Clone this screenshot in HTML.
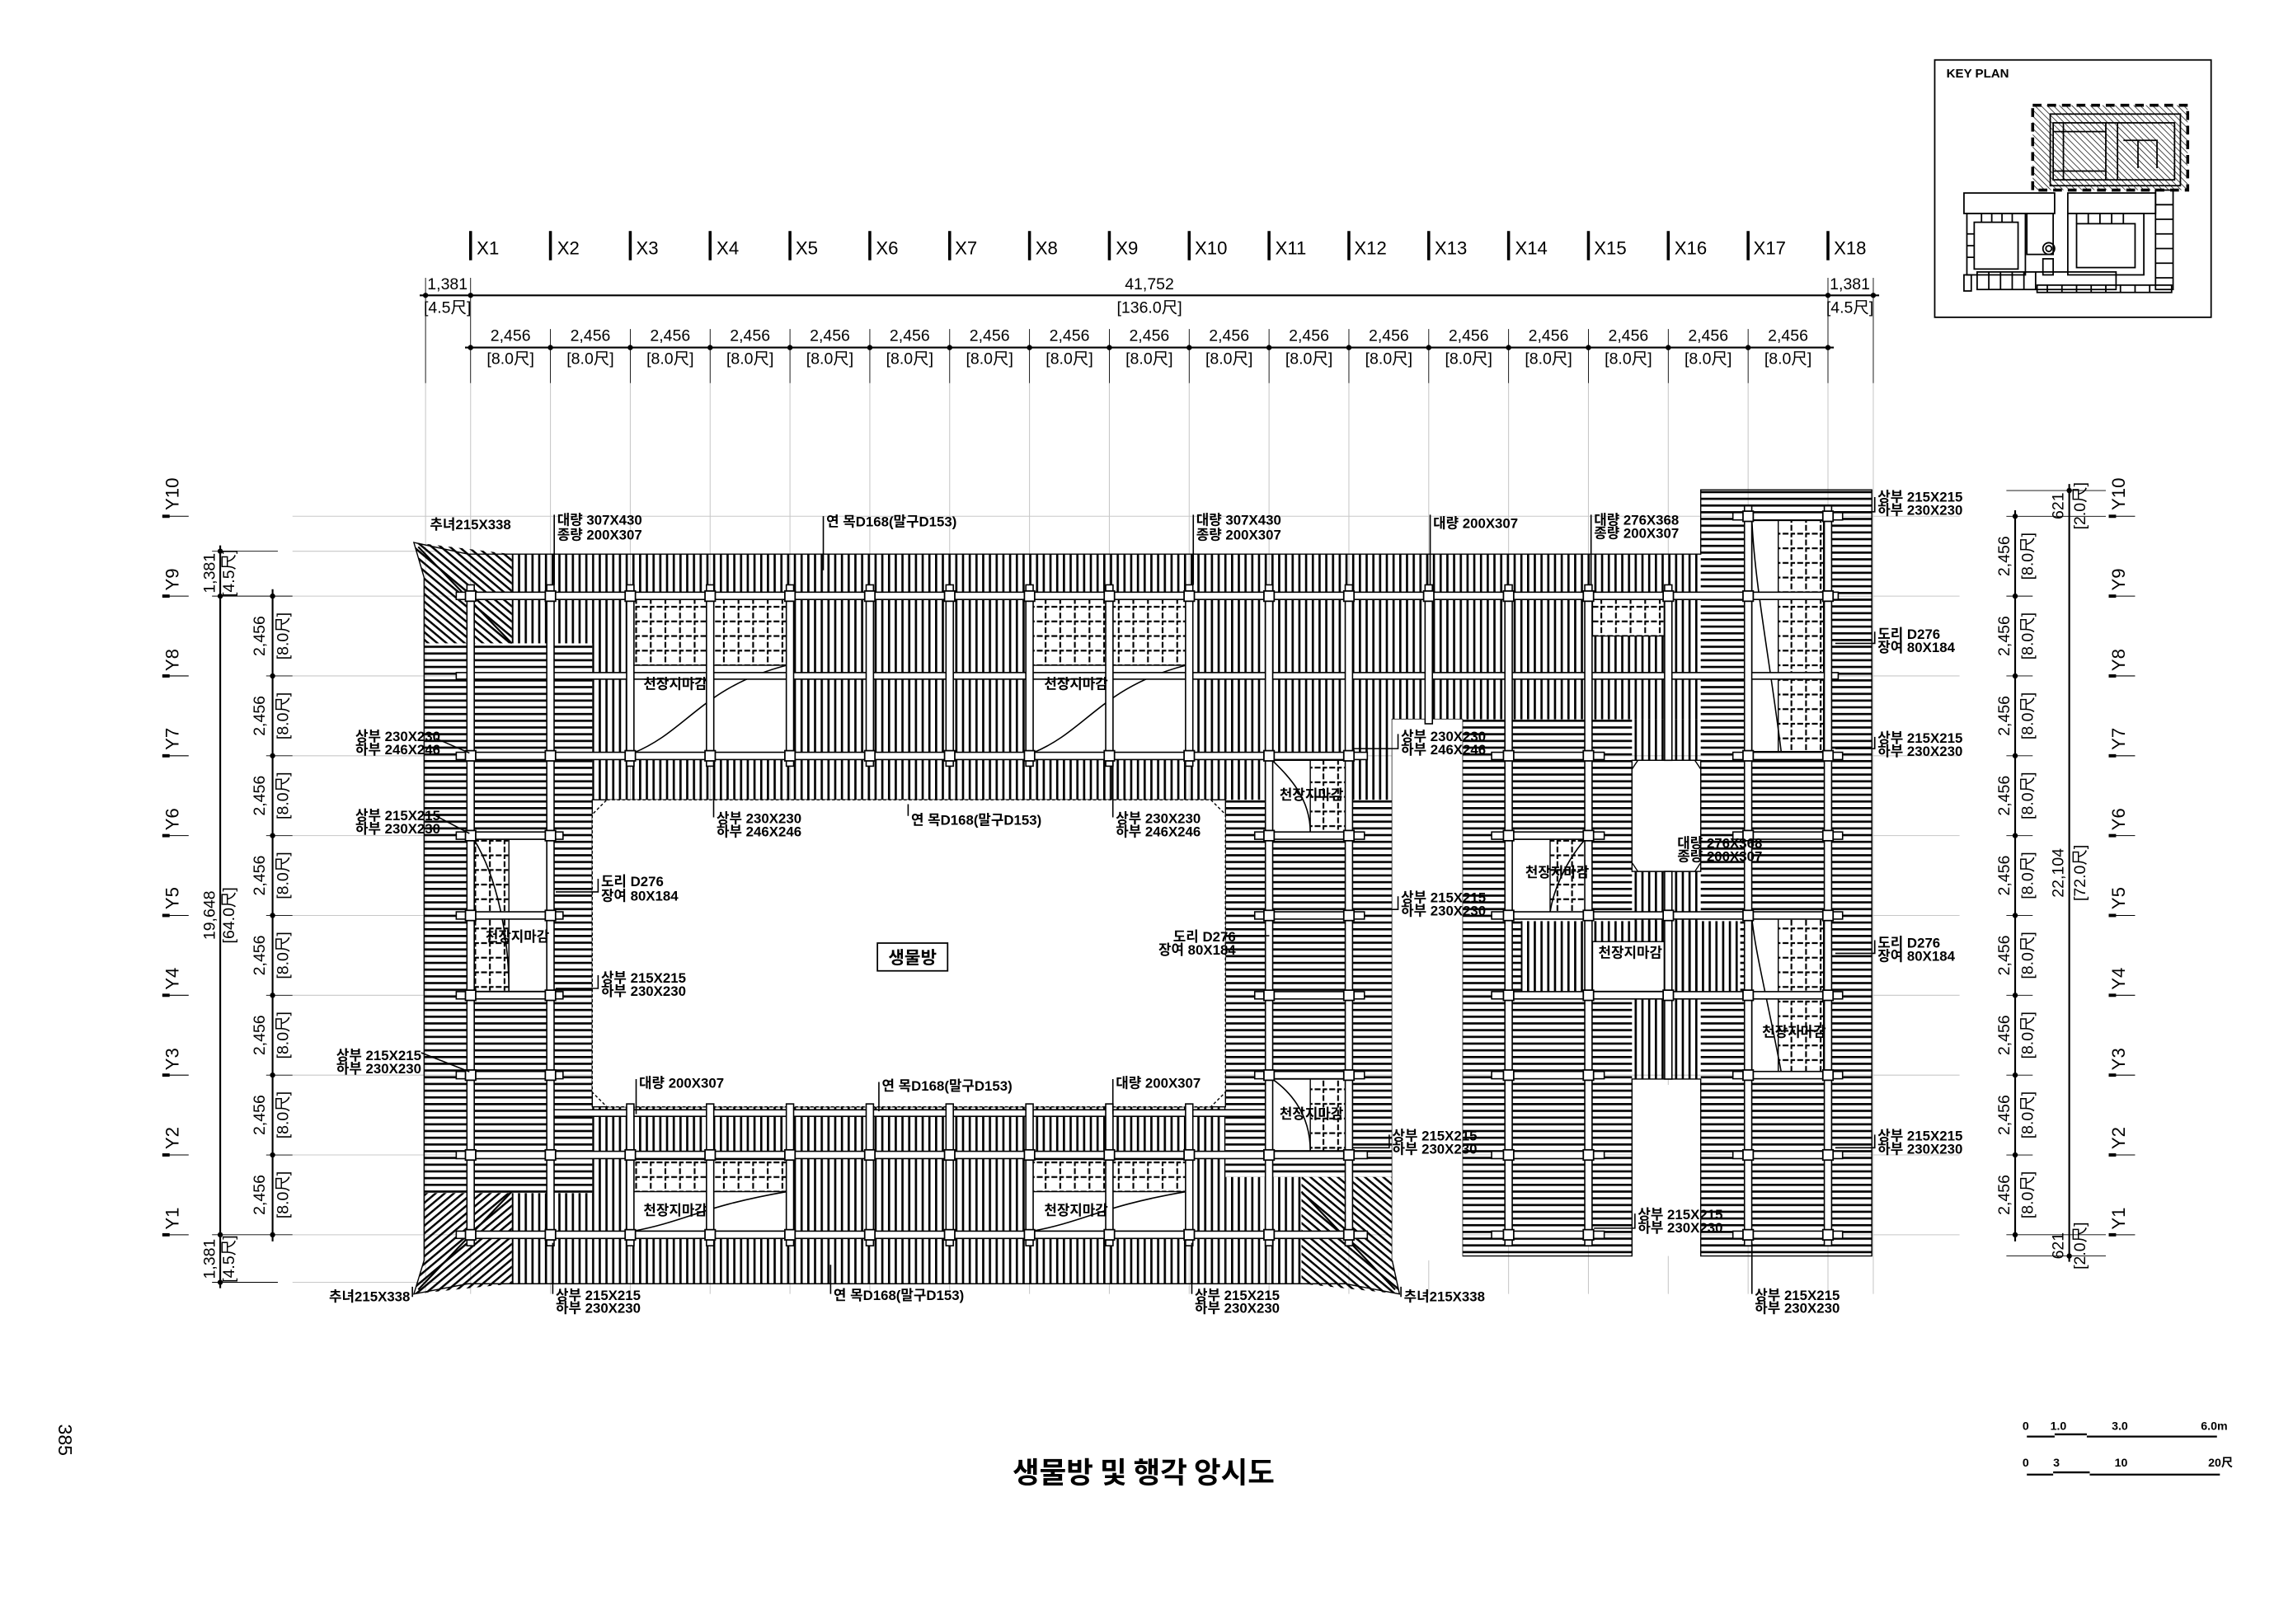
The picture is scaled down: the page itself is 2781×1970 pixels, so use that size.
<!DOCTYPE html>
<html><head><meta charset="utf-8">
<style>
html,body{margin:0;padding:0;background:#fff;}
svg{display:block;}
.t{font-family:"Liberation Sans Narrow","Liberation Sans","Noto Sans CJK KR",sans-serif;font-size:9.5px;font-weight:bold;fill:#000;}
.d{font-family:"Liberation Sans Narrow","Liberation Sans","Noto Sans CJK KR",sans-serif;font-size:11px;fill:#000;}
.g{stroke:#c8c8c8;stroke-width:0.6;fill:none;}
.k{stroke:#000;fill:none;}
.bm{fill:#fff;stroke:#000;stroke-width:0.9;}
.cs{fill:#fff;stroke:#000;stroke-width:1;}
</style></head>
<body>
<svg width="2781" height="1970" viewBox="0 0 1568 1110.7" preserveAspectRatio="none" xmlns="http://www.w3.org/2000/svg">
<defs>
<pattern id="v" width="4.6" height="10" patternUnits="userSpaceOnUse"><rect width="1.5" height="10" fill="#000"/></pattern>
<pattern id="h" width="10" height="4.6" patternUnits="userSpaceOnUse"><rect width="10" height="1.5" fill="#000"/></pattern>
<pattern id="dg" width="4" height="4" patternUnits="userSpaceOnUse" patternTransform="rotate(40)"><rect width="4" height="1.4" fill="#000"/></pattern>
<pattern id="dg2" width="4" height="4" patternUnits="userSpaceOnUse" patternTransform="rotate(-40)"><rect width="4" height="1.4" fill="#000"/></pattern>
<pattern id="kh" width="3" height="3" patternUnits="userSpaceOnUse" patternTransform="rotate(45)"><rect width="3" height="0.4" fill="#000"/></pattern>
<pattern id="cg" width="10" height="10" patternUnits="userSpaceOnUse"><rect width="10" height="10" fill="#fff"/><path d="M5 0V10M0 5H10" stroke="#000" stroke-width="1.2" stroke-dasharray="3 1.5"/></pattern>
</defs>
<rect width="1568" height="1111" fill="#fff"/>

<!-- grid lines -->
<g class="g">
<path d="M291 262V885M321.8 262V885M376.4 262V885M431 262V885M485.6 262V885M540.2 262V885M594.8 262V885M649.4 262V885M704 262V885M758.6 262V885M813.2 262V885M867.8 262V885M922.4 262V885M977 262V885M1031.6 262V885M1086.2 262V885M1140.8 262V885M1195.4 262V885M1250 262V885M1281 262V885"/>
<path d="M200 353.1H1340M200 407.7H1340M200 462.3H1340M200 516.9H1340M200 571.5H1340M200 626.1H1340M200 680.7H1340M200 735.3H1340M200 789.9H1340M200 844.5H1340M200 377H300M200 877H300"/>
</g>

<!-- hatch regions: main building -->
<rect x="350" y="379" width="55" height="61" fill="url(#v)"/>
<rect x="405" y="379" width="547" height="168" fill="url(#v)"/>
<rect x="952" y="379" width="211" height="113" fill="url(#v)"/>
<rect x="290" y="440" width="115" height="376" fill="url(#h)"/>
<rect x="838" y="547" width="114" height="258" fill="url(#h)"/>
<rect x="405" y="757" width="433" height="121" fill="url(#v)"/>
<rect x="350" y="816" width="55" height="62" fill="url(#v)"/>
<rect x="838" y="805" width="52" height="73" fill="url(#v)"/>
<polygon points="283,371 350,379 350,440 290,440 290,395" fill="url(#dg)"/>
<polygon points="283,885 350,878 350,816 290,816 290,862" fill="url(#dg2)"/>
<polygon points="957,885 890,878 890,805 952,805 952,862" fill="url(#dg)"/>
<path d="M286 374L350 440M286 882L350 815M954 882L890 815" class="k" stroke-width="1.2"/>
<!-- right building -->
<rect x="1000" y="492" width="116" height="367" fill="url(#h)"/>
<rect x="1163" y="335" width="117" height="524" fill="url(#h)"/>
<rect x="1116" y="492" width="47" height="28" fill="url(#v)"/>
<rect x="1040" y="630" width="150" height="48" fill="#fff"/>
<rect x="1116" y="596" width="47" height="142" fill="url(#v)"/>
<rect x="1040" y="630" width="150" height="48" fill="url(#v)"/>

<!-- outlines -->
<g class="k" stroke-width="0.8">
<polygon points="283,371 320,379 1163,379 1163,335 1280,335 1280,859 1163,859 1163,738 1116,738 1116,859 1000,859 1000,492 952,492 952,862 957,885 920,878 320,878 283,885 290,862 290,395"/>
<rect x="405" y="547" width="433" height="210"/>
<rect x="1116" y="520" width="47" height="76"/>
</g>
<!-- courtyard white -->
<polygon points="415,547 828,547 838,557 838,747 828,757 415,757 405,747 405,557" fill="#fff" stroke="#000" stroke-width="0.8" stroke-dasharray="2 1.5"/>
<polygon points="1120,520 1159,520 1163,526 1163,590 1159,596 1120,596 1116,590 1116,526" fill="#fff" stroke="#000" stroke-width="0.8"/>
<rect x="1116.5" y="742" width="46" height="117" fill="#fff"/>
<polygon points="952,492 1000,492 1000,862 952,862" fill="#fff"/>

<!-- ceiling patches -->
<g stroke="#000" stroke-width="0.8">
<rect x="433" y="410" width="105" height="105" fill="#fff"/>
<rect x="433" y="410" width="105" height="45" fill="url(#cg)"/>
<rect x="706" y="410" width="105" height="105" fill="#fff"/>
<rect x="706" y="410" width="105" height="45" fill="url(#cg)"/>
<rect x="433" y="793" width="105" height="49" fill="#fff"/>
<rect x="433" y="793" width="105" height="22" fill="url(#cg)"/>
<rect x="706" y="793" width="105" height="49" fill="#fff"/>
<rect x="706" y="793" width="105" height="22" fill="url(#cg)"/>
<rect x="324" y="574" width="50" height="104" fill="#fff"/>
<rect x="324" y="574" width="24" height="104" fill="url(#cg)"/>
<rect x="870" y="520" width="50" height="49" fill="#fff"/>
<rect x="896" y="520" width="24" height="49" fill="url(#cg)"/>
<rect x="870" y="738" width="50" height="49" fill="#fff"/>
<rect x="896" y="738" width="24" height="49" fill="url(#cg)"/>
<rect x="1034" y="574" width="50" height="50" fill="#fff"/>
<rect x="1060" y="574" width="24" height="50" fill="url(#cg)"/>
<rect x="1089" y="410" width="49" height="25" fill="url(#cg)"/>
<rect x="1089" y="644" width="49" height="34" fill="#fff"/>
<rect x="1198" y="356" width="49" height="158" fill="#fff"/>
<rect x="1216" y="356" width="31" height="158" fill="url(#cg)"/>
<rect x="1198" y="628" width="49" height="105" fill="#fff"/>
<rect x="1216" y="628" width="31" height="105" fill="url(#cg)"/>
</g>
<g class="k" stroke-width="0.9">
<path d="M433 515C470 500 480 470 538 455M706 515C743 500 753 470 811 455M433 842C470 835 480 825 538 815M706 842C743 835 753 825 811 815M348 678C348 640 340 600 324 574M896 569C896 545 880 530 870 520M896 787C896 760 880 745 870 738M1084 574C1070 590 1062 610 1060 624M1218 514C1210 450 1200 400 1198 356M1218 733C1210 690 1200 650 1198 628"/>
</g>

<!-- beams horizontal -->
<g class="bm">
<rect x="312" y="405" width="945" height="5"/>
<rect x="312" y="460" width="945" height="4.5"/>
<rect x="312" y="514.5" width="623" height="5"/>
<rect x="1020" y="514.5" width="77" height="5"/><rect x="1185" y="514.5" width="75" height="5"/>
<rect x="1185" y="350.6" width="75" height="5"/>
<rect x="312" y="569" width="73" height="5"/><rect x="858" y="569" width="75" height="5"/><rect x="1020" y="569" width="77" height="5"/><rect x="1185" y="569" width="75" height="5"/>
<rect x="312" y="623.6" width="73" height="5"/><rect x="858" y="623.6" width="75" height="5"/><rect x="1020" y="623.6" width="240" height="5"/>
<rect x="312" y="678.2" width="73" height="5"/><rect x="858" y="678.2" width="75" height="5"/><rect x="1020" y="678.2" width="240" height="5"/>
<rect x="312" y="732.8" width="73" height="5"/><rect x="858" y="732.8" width="75" height="5"/><rect x="1020" y="732.8" width="77" height="5"/><rect x="1185" y="732.8" width="75" height="5"/>
<rect x="376" y="759" width="492" height="4.5"/>
<rect x="312" y="787.4" width="623" height="5"/><rect x="1020" y="787.4" width="77" height="5"/><rect x="1185" y="787.4" width="75" height="5"/>
<rect x="312" y="842" width="623" height="5"/><rect x="1020" y="842" width="77" height="5"/><rect x="1185" y="842" width="75" height="5"/>
</g>
<!-- vertical members -->
<g class="bm">
<rect x="319.3" y="400" width="5" height="452"/><rect x="373.9" y="400" width="5" height="452"/>
<rect x="865.3" y="400" width="5" height="452"/><rect x="919.9" y="400" width="5" height="452"/>
<rect x="428.5" y="400" width="5" height="124"/><rect x="483.1" y="400" width="5" height="124"/><rect x="537.7" y="400" width="5" height="124"/><rect x="592.3" y="400" width="5" height="124"/><rect x="646.9" y="400" width="5" height="124"/><rect x="701.5" y="400" width="5" height="124"/><rect x="756.1" y="400" width="5" height="124"/><rect x="810.7" y="400" width="5" height="124"/><rect x="974.5" y="400" width="5" height="95"/>
<rect x="428.5" y="755" width="5" height="97"/><rect x="483.1" y="755" width="5" height="97"/><rect x="537.7" y="755" width="5" height="97"/><rect x="592.3" y="755" width="5" height="97"/><rect x="646.9" y="755" width="5" height="97"/><rect x="701.5" y="755" width="5" height="97"/><rect x="756.1" y="755" width="5" height="97"/><rect x="810.7" y="755" width="5" height="97"/>
<rect x="1029.1" y="400" width="5" height="452"/><rect x="1083.7" y="400" width="5" height="452"/>
<rect x="1192.9" y="346" width="5" height="506"/><rect x="1247.5" y="346" width="5" height="506"/>
<rect x="1138.3" y="400" width="5" height="120"/><rect x="1138.3" y="596" width="5" height="142"/>
</g>
<!-- columns -->
<g class="cs">
<rect x="318.3" y="404.2" width="7" height="7"/><rect x="372.9" y="404.2" width="7" height="7"/><rect x="427.5" y="404.2" width="7" height="7"/><rect x="482.1" y="404.2" width="7" height="7"/><rect x="536.7" y="404.2" width="7" height="7"/><rect x="591.3" y="404.2" width="7" height="7"/><rect x="645.9" y="404.2" width="7" height="7"/><rect x="700.5" y="404.2" width="7" height="7"/><rect x="755.1" y="404.2" width="7" height="7"/><rect x="809.7" y="404.2" width="7" height="7"/><rect x="864.3" y="404.2" width="7" height="7"/><rect x="918.9" y="404.2" width="7" height="7"/><rect x="973.5" y="404.2" width="7" height="7"/><rect x="1028.1" y="404.2" width="7" height="7"/><rect x="1082.7" y="404.2" width="7" height="7"/><rect x="1137.3" y="404.2" width="7" height="7"/><rect x="1191.9" y="404.2" width="7" height="7"/><rect x="1246.5" y="404.2" width="7" height="7"/>
<rect x="318.3" y="513.4" width="7" height="7"/><rect x="372.9" y="513.4" width="7" height="7"/><rect x="427.5" y="513.4" width="7" height="7"/><rect x="482.1" y="513.4" width="7" height="7"/><rect x="536.7" y="513.4" width="7" height="7"/><rect x="591.3" y="513.4" width="7" height="7"/><rect x="645.9" y="513.4" width="7" height="7"/><rect x="700.5" y="513.4" width="7" height="7"/><rect x="755.1" y="513.4" width="7" height="7"/><rect x="809.7" y="513.4" width="7" height="7"/><rect x="864.3" y="513.4" width="7" height="7"/><rect x="918.9" y="513.4" width="7" height="7"/><rect x="1028.1" y="513.4" width="7" height="7"/><rect x="1082.7" y="513.4" width="7" height="7"/><rect x="1191.9" y="513.4" width="7" height="7"/><rect x="1246.5" y="513.4" width="7" height="7"/>
<rect x="318.3" y="568" width="7" height="7"/><rect x="372.9" y="568" width="7" height="7"/><rect x="864.3" y="568" width="7" height="7"/><rect x="918.9" y="568" width="7" height="7"/><rect x="1028.1" y="568" width="7" height="7"/><rect x="1082.7" y="568" width="7" height="7"/><rect x="1191.9" y="568" width="7" height="7"/><rect x="1246.5" y="568" width="7" height="7"/>
<rect x="318.3" y="622.6" width="7" height="7"/><rect x="372.9" y="622.6" width="7" height="7"/><rect x="864.3" y="622.6" width="7" height="7"/><rect x="918.9" y="622.6" width="7" height="7"/><rect x="1028.1" y="622.6" width="7" height="7"/><rect x="1082.7" y="622.6" width="7" height="7"/><rect x="1137.3" y="622.6" width="7" height="7"/><rect x="1191.9" y="622.6" width="7" height="7"/><rect x="1246.5" y="622.6" width="7" height="7"/>
<rect x="318.3" y="677.2" width="7" height="7"/><rect x="372.9" y="677.2" width="7" height="7"/><rect x="864.3" y="677.2" width="7" height="7"/><rect x="918.9" y="677.2" width="7" height="7"/><rect x="1028.1" y="677.2" width="7" height="7"/><rect x="1082.7" y="677.2" width="7" height="7"/><rect x="1137.3" y="677.2" width="7" height="7"/><rect x="1191.9" y="677.2" width="7" height="7"/><rect x="1246.5" y="677.2" width="7" height="7"/>
<rect x="318.3" y="731.8" width="7" height="7"/><rect x="372.9" y="731.8" width="7" height="7"/><rect x="864.3" y="731.8" width="7" height="7"/><rect x="918.9" y="731.8" width="7" height="7"/><rect x="1028.1" y="731.8" width="7" height="7"/><rect x="1082.7" y="731.8" width="7" height="7"/><rect x="1191.9" y="731.8" width="7" height="7"/><rect x="1246.5" y="731.8" width="7" height="7"/>
<rect x="318.3" y="786.4" width="7" height="7"/><rect x="372.9" y="786.4" width="7" height="7"/><rect x="427.5" y="786.4" width="7" height="7"/><rect x="482.1" y="786.4" width="7" height="7"/><rect x="536.7" y="786.4" width="7" height="7"/><rect x="591.3" y="786.4" width="7" height="7"/><rect x="645.9" y="786.4" width="7" height="7"/><rect x="700.5" y="786.4" width="7" height="7"/><rect x="755.1" y="786.4" width="7" height="7"/><rect x="809.7" y="786.4" width="7" height="7"/><rect x="864.3" y="786.4" width="7" height="7"/><rect x="918.9" y="786.4" width="7" height="7"/><rect x="1028.1" y="786.4" width="7" height="7"/><rect x="1082.7" y="786.4" width="7" height="7"/><rect x="1191.9" y="786.4" width="7" height="7"/><rect x="1246.5" y="786.4" width="7" height="7"/>
<rect x="318.3" y="841" width="7" height="7"/><rect x="372.9" y="841" width="7" height="7"/><rect x="427.5" y="841" width="7" height="7"/><rect x="482.1" y="841" width="7" height="7"/><rect x="536.7" y="841" width="7" height="7"/><rect x="591.3" y="841" width="7" height="7"/><rect x="645.9" y="841" width="7" height="7"/><rect x="700.5" y="841" width="7" height="7"/><rect x="755.1" y="841" width="7" height="7"/><rect x="809.7" y="841" width="7" height="7"/><rect x="864.3" y="841" width="7" height="7"/><rect x="918.9" y="841" width="7" height="7"/><rect x="1028.1" y="841" width="7" height="7"/><rect x="1082.7" y="841" width="7" height="7"/><rect x="1191.9" y="841" width="7" height="7"/><rect x="1246.5" y="841" width="7" height="7"/>
<rect x="1191.9" y="349.6" width="7" height="7"/><rect x="1246.5" y="349.6" width="7" height="7"/>
</g>

<!-- top X labels -->
<g fill="#000">
<rect x="320.8" y="158" width="2" height="20"/><rect x="375.4" y="158" width="2" height="20"/><rect x="430" y="158" width="2" height="20"/><rect x="484.6" y="158" width="2" height="20"/><rect x="539.2" y="158" width="2" height="20"/><rect x="593.8" y="158" width="2" height="20"/><rect x="648.4" y="158" width="2" height="20"/><rect x="703" y="158" width="2" height="20"/><rect x="757.6" y="158" width="2" height="20"/><rect x="812.2" y="158" width="2" height="20"/><rect x="866.8" y="158" width="2" height="20"/><rect x="921.4" y="158" width="2" height="20"/><rect x="976" y="158" width="2" height="20"/><rect x="1030.6" y="158" width="2" height="20"/><rect x="1085.2" y="158" width="2" height="20"/><rect x="1139.8" y="158" width="2" height="20"/><rect x="1194.4" y="158" width="2" height="20"/><rect x="1249" y="158" width="2" height="20"/>
</g>
<g class="d" style="font-size:12.5px">
<text x="326" y="174">X1</text><text x="381" y="174">X2</text><text x="435" y="174">X3</text><text x="490" y="174">X4</text><text x="544" y="174">X5</text><text x="599" y="174">X6</text><text x="653" y="174">X7</text><text x="708" y="174">X8</text><text x="763" y="174">X9</text><text x="817" y="174">X10</text><text x="872" y="174">X11</text><text x="926" y="174">X12</text><text x="981" y="174">X13</text><text x="1036" y="174">X14</text><text x="1090" y="174">X15</text><text x="1145" y="174">X16</text><text x="1199" y="174">X17</text><text x="1254" y="174">X18</text>
</g>
<!-- top dims -->
<g class="k" stroke-width="1.2"><path d="M287 202H1285M318 237.7H1254"/></g>
<g class="k" stroke-width="0.5"><path d="M291 190V262M1281 190V262M321.8 190V262M376.4 225V262M431 225V262M485.6 225V262M540.2 225V262M594.8 225V262M649.4 225V262M704 225V262M758.6 225V262M813.2 225V262M867.8 225V262M922.4 225V262M977 225V262M1031.6 225V262M1086.2 225V262M1140.8 225V262M1195.4 225V262M1250 190V262"/></g>
<g fill="#000">
<circle cx="291" cy="202" r="1.8"/><circle cx="321.8" cy="202" r="1.8"/><circle cx="1250" cy="202" r="1.8"/><circle cx="1281" cy="202" r="1.8"/>
<circle cx="321.8" cy="237.7" r="1.8"/><circle cx="376.4" cy="237.7" r="1.8"/><circle cx="431" cy="237.7" r="1.8"/><circle cx="485.6" cy="237.7" r="1.8"/><circle cx="540.2" cy="237.7" r="1.8"/><circle cx="594.8" cy="237.7" r="1.8"/><circle cx="649.4" cy="237.7" r="1.8"/><circle cx="704" cy="237.7" r="1.8"/><circle cx="758.6" cy="237.7" r="1.8"/><circle cx="813.2" cy="237.7" r="1.8"/><circle cx="867.8" cy="237.7" r="1.8"/><circle cx="922.4" cy="237.7" r="1.8"/><circle cx="977" cy="237.7" r="1.8"/><circle cx="1031.6" cy="237.7" r="1.8"/><circle cx="1086.2" cy="237.7" r="1.8"/><circle cx="1140.8" cy="237.7" r="1.8"/><circle cx="1195.4" cy="237.7" r="1.8"/><circle cx="1250" cy="237.7" r="1.8"/>
</g>
<g class="d" text-anchor="middle">
<text x="306" y="198">1,381</text><text x="306" y="214">[4.5尺]</text>
<text x="786" y="198">41,752</text><text x="786" y="214">[136.0尺]</text>
<text x="1265" y="198">1,381</text><text x="1265" y="214">[4.5尺]</text>
<text x="349.1" y="233">2,456</text><text x="403.7" y="233">2,456</text><text x="458.3" y="233">2,456</text><text x="512.9" y="233">2,456</text><text x="567.5" y="233">2,456</text><text x="622.1" y="233">2,456</text><text x="676.7" y="233">2,456</text><text x="731.3" y="233">2,456</text><text x="785.9" y="233">2,456</text><text x="840.5" y="233">2,456</text><text x="895.1" y="233">2,456</text><text x="949.7" y="233">2,456</text><text x="1004.3" y="233">2,456</text><text x="1058.9" y="233">2,456</text><text x="1113.5" y="233">2,456</text><text x="1168.1" y="233">2,456</text><text x="1222.7" y="233">2,456</text>
<text x="349.1" y="249">[8.0尺]</text><text x="403.7" y="249">[8.0尺]</text><text x="458.3" y="249">[8.0尺]</text><text x="512.9" y="249">[8.0尺]</text><text x="567.5" y="249">[8.0尺]</text><text x="622.1" y="249">[8.0尺]</text><text x="676.7" y="249">[8.0尺]</text><text x="731.3" y="249">[8.0尺]</text><text x="785.9" y="249">[8.0尺]</text><text x="840.5" y="249">[8.0尺]</text><text x="895.1" y="249">[8.0尺]</text><text x="949.7" y="249">[8.0尺]</text><text x="1004.3" y="249">[8.0尺]</text><text x="1058.9" y="249">[8.0尺]</text><text x="1113.5" y="249">[8.0尺]</text><text x="1168.1" y="249">[8.0尺]</text><text x="1222.7" y="249">[8.0尺]</text>
</g>

<!-- left Y labels -->
<g fill="#000">
<rect x="111" y="352" width="5" height="2.2"/><rect x="111" y="406.6" width="5" height="2.2"/><rect x="111" y="461.2" width="5" height="2.2"/><rect x="111" y="515.8" width="5" height="2.2"/><rect x="111" y="570.4" width="5" height="2.2"/><rect x="111" y="625" width="5" height="2.2"/><rect x="111" y="679.6" width="5" height="2.2"/><rect x="111" y="734.2" width="5" height="2.2"/><rect x="111" y="788.8" width="5" height="2.2"/><rect x="111" y="843.4" width="5" height="2.2"/>
<rect x="1442" y="352" width="5" height="2.2"/><rect x="1442" y="406.6" width="5" height="2.2"/><rect x="1442" y="461.2" width="5" height="2.2"/><rect x="1442" y="515.8" width="5" height="2.2"/><rect x="1442" y="570.4" width="5" height="2.2"/><rect x="1442" y="625" width="5" height="2.2"/><rect x="1442" y="679.6" width="5" height="2.2"/><rect x="1442" y="734.2" width="5" height="2.2"/><rect x="1442" y="788.8" width="5" height="2.2"/><rect x="1442" y="843.4" width="5" height="2.2"/>
</g>
<g class="k" stroke-width="0.6"><path d="M111 353.1H129M111 407.7H129M111 462.3H129M111 516.9H129M111 571.5H129M111 626.1H129M111 680.7H129M111 735.3H129M111 789.9H129M111 844.5H129M1442 353.1H1460M1442 407.7H1460M1442 462.3H1460M1442 516.9H1460M1442 571.5H1460M1442 626.1H1460M1442 680.7H1460M1442 735.3H1460M1442 789.9H1460M1442 844.5H1460"/></g>
<g class="d" style="font-size:12.5px">
<text transform="translate(122,349) rotate(-90)">Y10</text><text transform="translate(122,404) rotate(-90)">Y9</text><text transform="translate(122,459) rotate(-90)">Y8</text><text transform="translate(122,513) rotate(-90)">Y7</text><text transform="translate(122,568) rotate(-90)">Y6</text><text transform="translate(122,622) rotate(-90)">Y5</text><text transform="translate(122,677) rotate(-90)">Y4</text><text transform="translate(122,732) rotate(-90)">Y3</text><text transform="translate(122,786) rotate(-90)">Y2</text><text transform="translate(122,841) rotate(-90)">Y1</text>
<text transform="translate(1453,349) rotate(-90)">Y10</text><text transform="translate(1453,404) rotate(-90)">Y9</text><text transform="translate(1453,459) rotate(-90)">Y8</text><text transform="translate(1453,513) rotate(-90)">Y7</text><text transform="translate(1453,568) rotate(-90)">Y6</text><text transform="translate(1453,622) rotate(-90)">Y5</text><text transform="translate(1453,677) rotate(-90)">Y4</text><text transform="translate(1453,732) rotate(-90)">Y3</text><text transform="translate(1453,786) rotate(-90)">Y2</text><text transform="translate(1453,841) rotate(-90)">Y1</text>
</g>
<!-- left dims -->
<g class="k" stroke-width="1.2"><path d="M150.6 373V881M186.4 403V849M1378 349V849M1415 331V863"/></g>
<g class="k" stroke-width="0.5"><path d="M145 377H190M145 407.7H200M145 844.5H200M145 877H190M182 462.3H200M182 516.9H200M182 571.5H200M182 626.1H200M182 680.7H200M182 735.3H200M182 789.9H200M1372 335.5H1440M1372 353.1H1440M1372 407.7H1390M1372 462.3H1390M1372 516.9H1390M1372 571.5H1390M1372 626.1H1390M1372 680.7H1390M1372 735.3H1390M1372 789.9H1390M1372 844.5H1440M1372 859H1440"/></g>
<g fill="#000">
<circle cx="150.6" cy="377" r="1.8"/><circle cx="150.6" cy="407.7" r="1.8"/><circle cx="150.6" cy="844.5" r="1.8"/><circle cx="150.6" cy="877" r="1.8"/>
<circle cx="186.4" cy="407.7" r="1.8"/><circle cx="186.4" cy="462.3" r="1.8"/><circle cx="186.4" cy="516.9" r="1.8"/><circle cx="186.4" cy="571.5" r="1.8"/><circle cx="186.4" cy="626.1" r="1.8"/><circle cx="186.4" cy="680.7" r="1.8"/><circle cx="186.4" cy="735.3" r="1.8"/><circle cx="186.4" cy="789.9" r="1.8"/><circle cx="186.4" cy="844.5" r="1.8"/>
<circle cx="1378" cy="353.1" r="1.8"/><circle cx="1378" cy="407.7" r="1.8"/><circle cx="1378" cy="462.3" r="1.8"/><circle cx="1378" cy="516.9" r="1.8"/><circle cx="1378" cy="571.5" r="1.8"/><circle cx="1378" cy="626.1" r="1.8"/><circle cx="1378" cy="680.7" r="1.8"/><circle cx="1378" cy="735.3" r="1.8"/><circle cx="1378" cy="789.9" r="1.8"/><circle cx="1378" cy="844.5" r="1.8"/>
<circle cx="1415" cy="335.5" r="1.8"/><circle cx="1415" cy="859" r="1.8"/>
</g>
<g class="d" text-anchor="middle">
<text transform="translate(147,392) rotate(-90)">1,381</text><text transform="translate(160,392) rotate(-90)">[4.5尺]</text>
<text transform="translate(147,861) rotate(-90)">1,381</text><text transform="translate(160,861) rotate(-90)">[4.5尺]</text>
<text transform="translate(147,626) rotate(-90)">19,648</text><text transform="translate(160,626) rotate(-90)">[64.0尺]</text>
<text transform="translate(181,435) rotate(-90)">2,456</text><text transform="translate(197,435) rotate(-90)">[8.0尺]</text>
<text transform="translate(181,489.6) rotate(-90)">2,456</text><text transform="translate(197,489.6) rotate(-90)">[8.0尺]</text>
<text transform="translate(181,544.2) rotate(-90)">2,456</text><text transform="translate(197,544.2) rotate(-90)">[8.0尺]</text>
<text transform="translate(181,598.8) rotate(-90)">2,456</text><text transform="translate(197,598.8) rotate(-90)">[8.0尺]</text>
<text transform="translate(181,653.4) rotate(-90)">2,456</text><text transform="translate(197,653.4) rotate(-90)">[8.0尺]</text>
<text transform="translate(181,708) rotate(-90)">2,456</text><text transform="translate(197,708) rotate(-90)">[8.0尺]</text>
<text transform="translate(181,762.6) rotate(-90)">2,456</text><text transform="translate(197,762.6) rotate(-90)">[8.0尺]</text>
<text transform="translate(181,817.2) rotate(-90)">2,456</text><text transform="translate(197,817.2) rotate(-90)">[8.0尺]</text>
<text transform="translate(1374,380.4) rotate(-90)">2,456</text><text transform="translate(1390,380.4) rotate(-90)">[8.0尺]</text>
<text transform="translate(1374,435) rotate(-90)">2,456</text><text transform="translate(1390,435) rotate(-90)">[8.0尺]</text>
<text transform="translate(1374,489.6) rotate(-90)">2,456</text><text transform="translate(1390,489.6) rotate(-90)">[8.0尺]</text>
<text transform="translate(1374,544.2) rotate(-90)">2,456</text><text transform="translate(1390,544.2) rotate(-90)">[8.0尺]</text>
<text transform="translate(1374,598.8) rotate(-90)">2,456</text><text transform="translate(1390,598.8) rotate(-90)">[8.0尺]</text>
<text transform="translate(1374,653.4) rotate(-90)">2,456</text><text transform="translate(1390,653.4) rotate(-90)">[8.0尺]</text>
<text transform="translate(1374,708) rotate(-90)">2,456</text><text transform="translate(1390,708) rotate(-90)">[8.0尺]</text>
<text transform="translate(1374,762.6) rotate(-90)">2,456</text><text transform="translate(1390,762.6) rotate(-90)">[8.0尺]</text>
<text transform="translate(1374,817.2) rotate(-90)">2,456</text><text transform="translate(1390,817.2) rotate(-90)">[8.0尺]</text>
<text transform="translate(1411,346) rotate(-90)">621</text><text transform="translate(1426,346) rotate(-90)">[2.0尺]</text>
<text transform="translate(1411,852) rotate(-90)">621</text><text transform="translate(1426,852) rotate(-90)">[2.0尺]</text>
<text transform="translate(1411,597) rotate(-90)">22,104</text><text transform="translate(1426,597) rotate(-90)">[72.0尺]</text>
</g>

<!-- annotation labels -->
<g class="t">
<text x="294" y="362">추녀215X338</text>
<text x="381" y="359">대량 307X430</text><text x="381" y="369">종량 200X307</text>
<text x="565" y="360">연 목D168(말구D153)</text>
<text x="818" y="359">대량 307X430</text><text x="818" y="369">종량 200X307</text>
<text x="980" y="361">대량 200X307</text>
<text x="1090" y="359">대량 276X368</text><text x="1090" y="368">종량 200X307</text>
<text x="1284" y="343">상부 215X215</text><text x="1284" y="352">하부 230X230</text>
<text x="1284" y="437">도리 D276</text><text x="1284" y="446">장여 80X184</text>
<text x="1284" y="508">상부 215X215</text><text x="1284" y="517">하부 230X230</text>
<text x="1284" y="648">도리 D276</text><text x="1284" y="657">장여 80X184</text>
<text x="1284" y="780">상부 215X215</text><text x="1284" y="789">하부 230X230</text>
<text x="243" y="507">상부 230X230</text><text x="243" y="516">하부 246X246</text>
<text x="243" y="561">상부 215X215</text><text x="243" y="570">하부 230X230</text>
<text x="230" y="725">상부 215X215</text><text x="230" y="734">하부 230X230</text>
<text x="958" y="507">상부 230X230</text><text x="958" y="516">하부 246X246</text>
<text x="490" y="563">상부 230X230</text><text x="490" y="572">하부 246X246</text>
<text x="623" y="564">연 목D168(말구D153)</text>
<text x="763" y="563">상부 230X230</text><text x="763" y="572">하부 246X246</text>
<text x="440" y="471">천장지마감</text><text x="714" y="471">천장지마감</text>
<text x="875" y="547">천장지마감</text>
<text x="1147" y="580">대량 276X368</text><text x="1147" y="589">종량 200X307</text>
<text x="1043" y="600">천장지마감</text>
<text x="411" y="606">도리 D276</text><text x="411" y="616">장여 80X184</text>
<text x="958" y="617">상부 215X215</text><text x="958" y="626">하부 230X230</text>
<text x="332" y="644">천장지마감</text>
<text x="845" y="644" text-anchor="end">도리 D276</text><text x="845" y="653" text-anchor="end">장여 80X184</text>
<text x="1093" y="655">천장지마감</text>
<text x="411" y="672">상부 215X215</text><text x="411" y="681">하부 230X230</text>
<text x="1205" y="709">천장지마감</text>
<text x="437" y="744">대량 200X307</text>
<text x="603" y="746">연 목D168(말구D153)</text>
<text x="763" y="744">대량 200X307</text>
<text x="875" y="765">천장지마감</text>
<text x="952" y="780">상부 215X215</text><text x="952" y="789">하부 230X230</text>
<text x="440" y="831">천장지마감</text><text x="714" y="831">천장지마감</text>
<text x="1120" y="834">상부 215X215</text><text x="1120" y="843">하부 230X230</text>
<text x="225" y="890">추녀215X338</text>
<text x="960" y="890">추녀215X338</text>
<text x="380" y="889">상부 215X215</text><text x="380" y="898">하부 230X230</text>
<text x="570" y="889">연 목D168(말구D153)</text>
<text x="817" y="889">상부 215X215</text><text x="817" y="898">하부 230X230</text>
<text x="1200" y="889">상부 215X215</text><text x="1200" y="898">하부 230X230</text>
</g>
<!-- leaders -->
<g class="k" stroke-width="0.9">
<path d="M379 352V400M816 352V400M978 352V400M1088 352V400M563 353V390M1282 340V350H1255M1282 432V440H1255M1282 504V512H1255M1282 643V652H1255M1282 776V785H1255M956 502V512H925M956 613V622H925M950 776V785H925M488 559V520M761 559V520M621 558V550M409 601V610H380M409 667V676H380M435 738V762M761 738V762M601 740V760M1118 830V840H1090M378 885V850M815 885V850M1198 885V850M568 885V865M958 887V880M282 887V880M298 558L321 570M298 505L321 515M288 720L321 733M843 640L868 640"/>
</g>
<!-- 생물방 label -->
<rect x="600" y="645" width="48" height="19" fill="#fff" stroke="#000" stroke-width="1"/>
<text x="624" y="659" text-anchor="middle" class="t" style="font-size:12px">생물방</text>

<!-- key plan -->
<rect x="1323" y="41" width="189" height="176" fill="#fff" stroke="#000" stroke-width="1"/>
<text x="1331" y="53" class="t" style="font-size:8.5px">KEY PLAN</text>
<rect x="1390" y="72" width="106" height="58" fill="url(#kh)" stroke="#000" stroke-width="2" stroke-dasharray="6 4"/>
<g class="k" stroke-width="1">
<rect x="1402" y="78" width="89" height="49"/>
<rect x="1404" y="84" width="83" height="39"/>
<path d="M1404 90H1440M1404 117H1440M1411 84V123M1440 84V123M1448 84V123M1452 96H1475V115M1462 96V115"/>
<rect x="1343" y="132" width="62" height="14"/>
<rect x="1345" y="146" width="40" height="42"/>
<rect x="1350" y="152" width="30" height="32" fill="#fff"/>
<rect x="1386" y="146" width="18" height="28"/>
<rect x="1343" y="188" width="5" height="11"/>
<rect x="1352" y="186" width="95" height="12"/>
<rect x="1414" y="132" width="60" height="14"/>
<rect x="1414" y="146" width="52" height="42"/>
<rect x="1420" y="153" width="40" height="30" fill="#fff"/>
<rect x="1474" y="130" width="12" height="68"/>
<rect x="1393" y="195" width="92" height="5"/>
<circle cx="1401" cy="170" r="4"/><circle cx="1401" cy="170" r="2"/>
<rect x="1397" y="177" width="7" height="11"/>
<path d="M1345 160H1350M1345 168H1350M1345 176H1350M1355 146V152M1362 146V152M1369 146V152M1376 146V152M1360 186V198M1368 186V198M1376 186V198M1384 186V198M1392 186V198M1420 146V153M1428 146V153M1436 146V153M1444 146V153M1452 146V153M1474 140H1486M1474 150H1486M1474 160H1486M1474 170H1486M1474 180H1486M1474 190H1486M1400 195V200M1410 195V200M1420 195V200M1430 195V200M1440 195V200M1450 195V200M1460 195V200M1470 195V200"/>
</g>

<!-- page number -->
<text transform="translate(40,974) rotate(90)" class="d" style="font-size:13px">385</text>

<!-- title -->
<text x="782" y="1014" text-anchor="middle" style="font-family:'Noto Sans CJK KR','NanumGothic',sans-serif;font-weight:bold;font-size:20px;fill:#000">생물방 및 행각 앙시도</text>

<!-- scales -->
<g class="t" style="font-size:8px">
<text x="1383" y="978">0</text><text x="1402" y="978">1.0</text><text x="1444" y="978">3.0</text><text x="1505" y="978">6.0m</text>
<text x="1383" y="1003">0</text><text x="1404" y="1003">3</text><text x="1446" y="1003">10</text><text x="1510" y="1003">20尺</text>
</g>
<g class="k" stroke-width="1.3">
<path d="M1386 982.5H1405M1405 981H1427M1427 982.5H1516"/>
<path d="M1386 1008.5H1404M1404 1007H1429M1429 1008.5H1518"/>
</g>
</svg>
</body></html>
